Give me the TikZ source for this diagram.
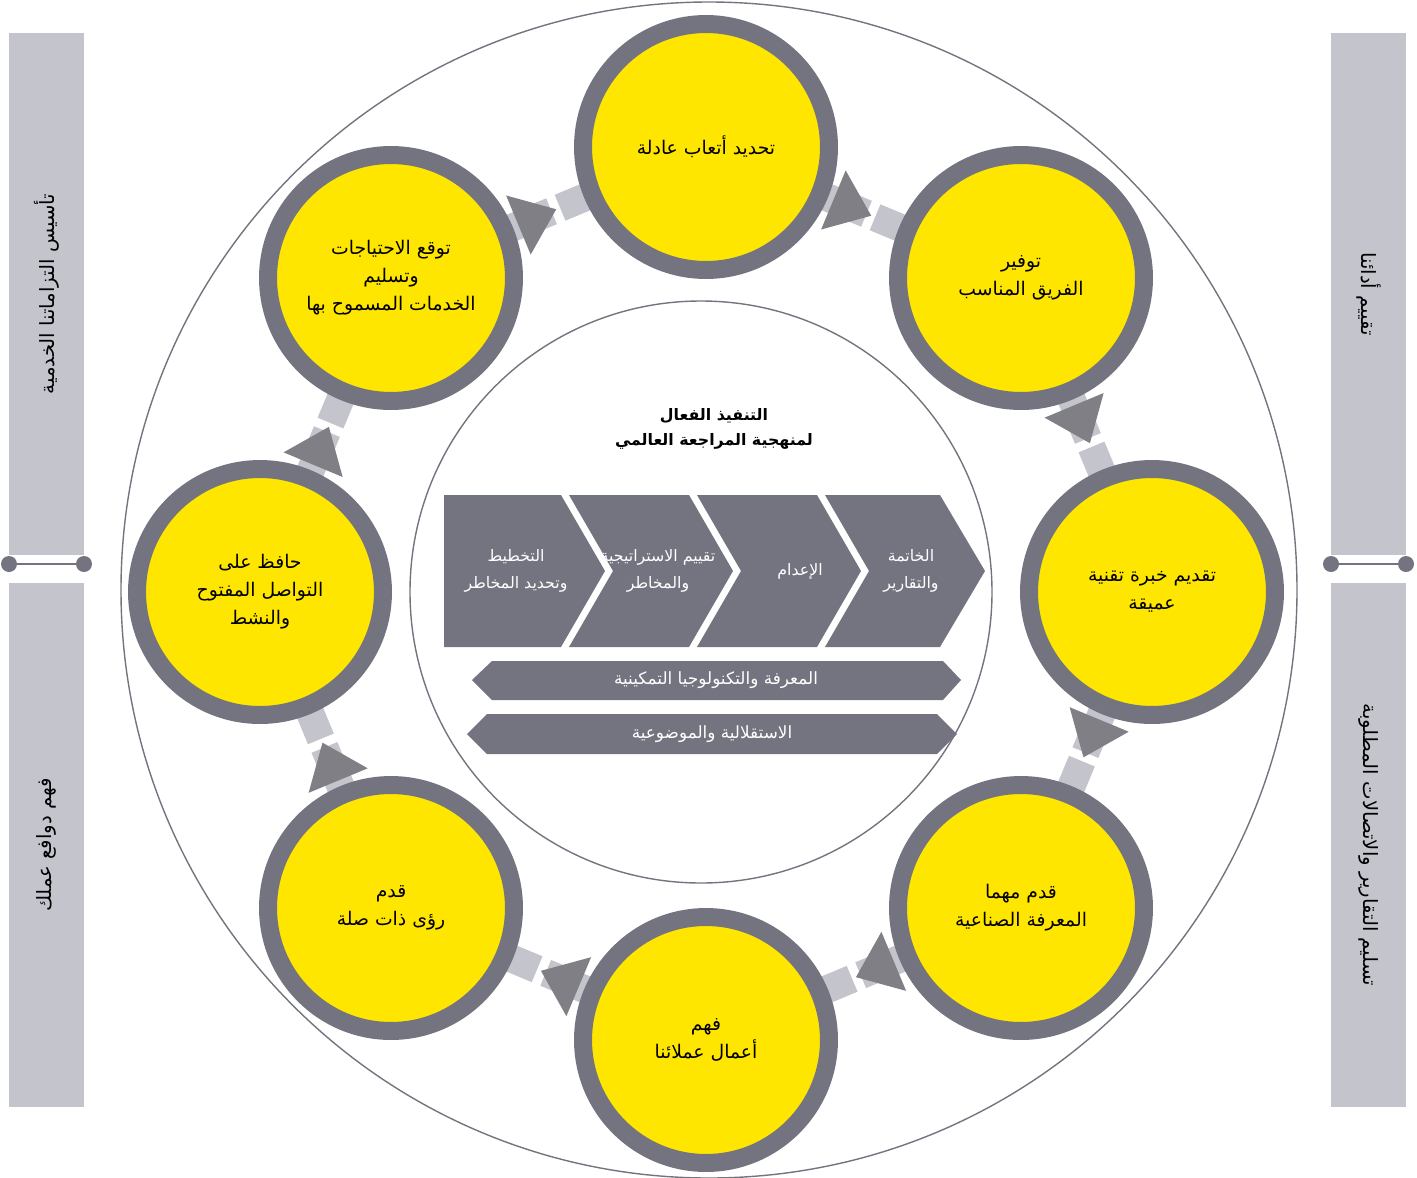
\documentclass[tikz,border=0pt]{standalone}
\usepackage{fontspec}
\usetikzlibrary{calc}
\newfontfamily\arabicfont[Script=Arabic]{DejaVu Sans}
\TeXXeTstate=1
\newcommand\ar[1]{\beginR #1\endR}
\definecolor{eyyellow}{HTML}{FFE600}
\definecolor{eygray}{HTML}{747480}
\definecolor{eylight}{HTML}{C4C4CD}
\definecolor{trigray}{HTML}{807F85}
\pgfdeclarelayer{bg}
\pgfsetlayers{bg,main}
\tikzset{
  ybub/.style={circle, fill=eyyellow, draw=eygray, line width=0.36cm,
    minimum size=4.92cm, inner sep=0pt, align=center,
    font=\arabicfont\fontsize{10.7}{16}\selectfont},
  band/.style={eylight, line width=0.56cm},
  gapcut/.style={white, line width=0.66cm},
  arrowtri/.style={fill=trigray},
  chevshape/.style={fill=eygray},
  chevtext/.style={text=white, align=center, font=\arabicfont\fontsize{9}{15.3}\selectfont},
  bartext/.style={text=white, align=center, font=\arabicfont\fontsize{9.6}{15.3}\selectfont},
  sidebar/.style={fill=eylight, inner sep=0pt, minimum height=1.5cm,
    font=\arabicfont\fontsize{11.2}{14}\selectfont},
  sidedot/.style={circle, fill=eygray, inner sep=0pt, minimum size=0.32cm},
  ringline/.style={eygray, line width=0.8pt},
}
\begin{document}
\begin{tikzpicture}[x=0.02cm, y=-0.02cm]
\useasboundingbox (0,0) rectangle (1417,1177);

% side bars
\node[sidebar, rotate=90, minimum width=10.44cm] (lb1) at (46.5,294) {\ar{تأسيس التزاماتنا الخدمية}};
\node[sidebar, rotate=90, minimum width=10.48cm] (lb2) at (46.5,845) {\ar{فهم دوافع عملك}};
\node[sidebar, rotate=-90, minimum width=10.44cm] (rb1) at (1368.5,294) {\ar{تقييم أدائنا}};
\node[sidebar, rotate=-90, minimum width=10.48cm] (rb2) at (1368.5,845) {\ar{تسليم التقارير والاتصالات المطلوبة}};
\node[sidedot] (ld1) at (9,564) {};
\node[sidedot] (ld2) at (84,564) {};
\node[sidedot] (rd1) at (1331,564) {};
\node[sidedot] (rd2) at (1406,564) {};
\draw[eygray, line width=1.2pt] (ld1) -- (ld2);
\draw[eygray, line width=1.2pt] (rd1) -- (rd2);

% eight circles
\node[ybub] (c1) at (706,147) {\ar{تحديد أتعاب عادلة}};
\node[ybub] (c2) at (1021,278) {\ar{توفير}\\\ar{الفريق المناسب}};
\node[ybub] (c3) at (1152,592) {\ar{تقديم خبرة تقنية}\\\ar{عميقة}};
\node[ybub] (c4) at (1021,908) {\ar{قدم مهما}\\\ar{المعرفة الصناعية}};
\node[ybub] (c5) at (706,1040) {\ar{فهم}\\\ar{أعمال عملائنا}};
\node[ybub] (c6) at (391,908) {\ar{قدم}\\\ar{رؤى ذات صلة}};
\node[ybub] (c7) at (260,592) {\ar{حافظ على}\\\ar{التواصل المفتوح}\\\ar{والنشط}};
\node[ybub] (c8) at (391,278) {\ar{توقع الاحتياجات}\\\ar{وتسليم}\\\ar{الخدمات المسموح بها}};

\begin{pgfonlayer}{bg}
  \draw[ringline] (709,590) circle[radius=588];
  \draw[ringline] (701,592) circle[radius=291];
  \foreach \a/\b in {c8/c1,c1/c2,c2/c3,c3/c4,c4/c5,c5/c6,c6/c7,c7/c8}{
    \draw[band] (\a.center) -- (\b.center);
    \draw[gapcut] ($(\a.center)!3.48cm!(\b.center)$) -- ($(\a.center)!3.66cm!(\b.center)$);
  }
\end{pgfonlayer}

\foreach \a/\b in {c8/c1,c1/c2,c2/c3,c3/c4,c4/c5,c5/c6,c6/c7,c7/c8}{
  \coordinate (bm) at ($(\a.center)!2.76cm!(\b.center)$);
  \fill[arrowtri] ($(bm)!0.64cm!90:(\b.center)$) -- ($(\a.center)!3.58cm!(\b.center)$)
     -- ($(bm)!0.64cm!-90:(\b.center)$) -- cycle;
}

% central title
\node[align=center, font=\arabicfont\bfseries\fontsize{9}{14.7}\selectfont] (title) at (714,429)
  {\ar{التنفيذ الفعال}\\\ar{لمنهجية المراجعة العالمي}};

% chevrons
\fill[chevshape] (444,495) -- (561,495) -- (605,571) -- (561,647) -- (444,647) -- cycle;
\fill[chevshape] (569,495) -- (689,495) -- (733,571) -- (689,647) -- (569,647) -- (613,571) -- cycle;
\fill[chevshape] (697,495) -- (817,495) -- (861,571) -- (817,647) -- (697,647) -- (741,571) -- cycle;
\fill[chevshape] (825,495) -- (940,495) -- (985,571) -- (940,647) -- (825,647) -- (869,571) -- cycle;
\node[chevtext] (t1) at (516,571) {\ar{التخطيط}\\\ar{وتحديد المخاطر}};
\node[chevtext] (t2) at (658,571) {\ar{تقييم الاستراتيجية}\\\ar{والمخاطر}};
\node[chevtext] (t3) at (800,571) {\ar{الإعدام}};
\node[chevtext] (t4) at (911,571) {\ar{الخاتمة}\\\ar{والتقارير}};

% bars
\fill[chevshape] (472,680) -- (492,661) -- (943,661) -- (961,680) -- (943,700) -- (492,700) -- cycle;
\fill[chevshape] (467,734) -- (487,714) -- (937,714) -- (957,734) -- (937,754) -- (487,754) -- cycle;
\node[bartext] (bt1) at (716,680) {\ar{المعرفة والتكنولوجيا التمكينية}};
\node[bartext] (bt2) at (712,734) {\ar{الاستقلالية والموضوعية}};
\end{tikzpicture}
\end{document}
